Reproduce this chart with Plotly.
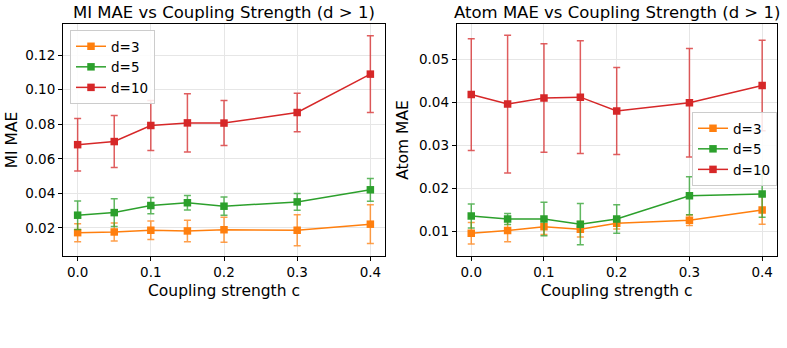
import plotly.graph_objects as go

c_vals = [0.0, 0.05, 0.1, 0.15, 0.2, 0.3, 0.4]
labels = ["d=3", "d=5", "d=10"]
colors = ["#ff7f0e", "#2ca02c", "#d62728"]
err_colors = ["rgba(255,127,14,0.75)", "rgba(44,160,44,0.75)", "rgba(214,39,40,0.75)"]

# MI MAE (left panel)
mi_mean = [
    [0.0173, 0.0177, 0.0187, 0.0183, 0.0190, 0.0187, 0.0222],
    [0.0274, 0.0289, 0.0330, 0.0346, 0.0326, 0.0351, 0.0421],
    [0.0682, 0.0700, 0.0793, 0.0808, 0.0807, 0.0868, 0.1090],
]
mi_err = [
    [0.0052, 0.0052, 0.0054, 0.0062, 0.0072, 0.0090, 0.0112],
    [0.0082, 0.0080, 0.0047, 0.0042, 0.0053, 0.0049, 0.0066],
    [0.0152, 0.0150, 0.0145, 0.0168, 0.0130, 0.0112, 0.0222],
]

# Atom MAE (right panel)
atom_mean = [
    [0.0096, 0.0102, 0.0111, 0.0105, 0.0119, 0.0126, 0.0150],
    [0.0136, 0.0129, 0.0129, 0.0117, 0.0129, 0.0183, 0.0187],
    [0.0418, 0.0396, 0.0410, 0.0412, 0.0380, 0.0399, 0.0439],
]
atom_err = [
    [0.0025, 0.0026, 0.0018, 0.0018, 0.0013, 0.0012, 0.0033],
    [0.0028, 0.0013, 0.0039, 0.0048, 0.0033, 0.0044, 0.0054],
    [0.0130, 0.0160, 0.0126, 0.0131, 0.0101, 0.0126, 0.0105],
]

x_ticks = [0.0, 0.1, 0.2, 0.3, 0.4]
x_ticktext = ["0.0", "0.1", "0.2", "0.3", "0.4"]
mi_ticks = [0.02, 0.04, 0.06, 0.08, 0.10, 0.12]
atom_ticks = [0.01, 0.02, 0.03, 0.04, 0.05]

FONT = "DejaVu Sans"
W, H = 787, 348

fig = go.Figure()

for i in range(3):
    fig.add_trace(go.Scatter(
        x=c_vals, y=mi_mean[i], name=labels[i], mode="lines+markers",
        line=dict(color=colors[i], width=1.5),
        marker=dict(symbol="square", size=7.5, color=colors[i]),
        error_y=dict(type="data", array=mi_err[i], visible=True,
                     color=err_colors[i], thickness=1.5, width=3.5),
        xaxis="x", yaxis="y", legend="legend",
    ))
for i in range(3):
    fig.add_trace(go.Scatter(
        x=c_vals, y=atom_mean[i], name=labels[i], mode="lines+markers",
        line=dict(color=colors[i], width=1.5),
        marker=dict(symbol="square", size=7.5, color=colors[i]),
        error_y=dict(type="data", array=atom_err[i], visible=True,
                     color=err_colors[i], thickness=1.5, width=3.5),
        xaxis="x2", yaxis="y2", legend="legend2",
    ))

ydom = [1 - 256 / H, 1 - 24 / H]
axis_common = dict(
    showline=True, linecolor="black", linewidth=1, mirror=True,
    ticks="outside", ticklen=4, tickcolor="black", tickwidth=1,
    showgrid=True, gridcolor="#e6e6e6", gridwidth=1, zeroline=False,
    tickfont=dict(family=FONT, size=13.5, color="black"),
)
title_font = dict(family=FONT, size=15.5, color="black")

fig.update_layout(
    width=W, height=H,
    margin=dict(l=0, r=0, t=0, b=0),
    paper_bgcolor="white", plot_bgcolor="white",
    font=dict(family=FONT, color="black"),
    xaxis=dict(domain=[63 / W, 385 / W], range=[-0.02, 0.42], anchor="y",
               tickvals=x_ticks, ticktext=x_ticktext,
               title=dict(text="Coupling strength c", font=title_font, standoff=5),
               **axis_common),
    yaxis=dict(domain=ydom, range=[0.0038, 0.138], anchor="x",
               tickvals=mi_ticks, ticktext=[f"{v:.2f}" for v in mi_ticks],
               title=dict(text="MI MAE", font=title_font, standoff=3),
               **axis_common),
    xaxis2=dict(domain=[456.7 / W, 776.7 / W], range=[-0.02, 0.42], anchor="y2",
                tickvals=x_ticks, ticktext=x_ticktext,
                title=dict(text="Coupling strength c", font=title_font, standoff=5),
                **axis_common),
    yaxis2=dict(domain=ydom, range=[0.0043, 0.0582], anchor="x2",
                tickvals=atom_ticks, ticktext=[f"{v:.2f}" for v in atom_ticks],
                title=dict(text="Atom MAE", font=title_font, standoff=6),
                **axis_common),
    legend=dict(x=70 / W, y=1 - 30 / H, xanchor="left", yanchor="top",
                bgcolor="rgba(255,255,255,0.85)", bordercolor="#cccccc", borderwidth=1,
                font=dict(family=FONT, size=13.5), tracegroupgap=0, itemwidth=30),
    legend2=dict(x=692 / W, y=1 - 112 / H, xanchor="left", yanchor="top",
                 bgcolor="rgba(255,255,255,0.85)", bordercolor="#cccccc", borderwidth=1,
                 font=dict(family=FONT, size=13.5), tracegroupgap=0, itemwidth=30),
    showlegend=True,
    annotations=[
        dict(text="MI MAE vs Coupling Strength (d > 1)", xref="paper", yref="paper",
             x=224 / W, y=1 - 13 / H, xanchor="center", yanchor="middle", showarrow=False,
             font=dict(family=FONT, size=16.5, color="black")),
        dict(text="Atom MAE vs Coupling Strength (d > 1)", xref="paper", yref="paper",
             x=616.7 / W, y=1 - 13 / H, xanchor="center", yanchor="middle", showarrow=False,
             font=dict(family=FONT, size=16.5, color="black")),
    ],
)

fig.write_html("out.html")
